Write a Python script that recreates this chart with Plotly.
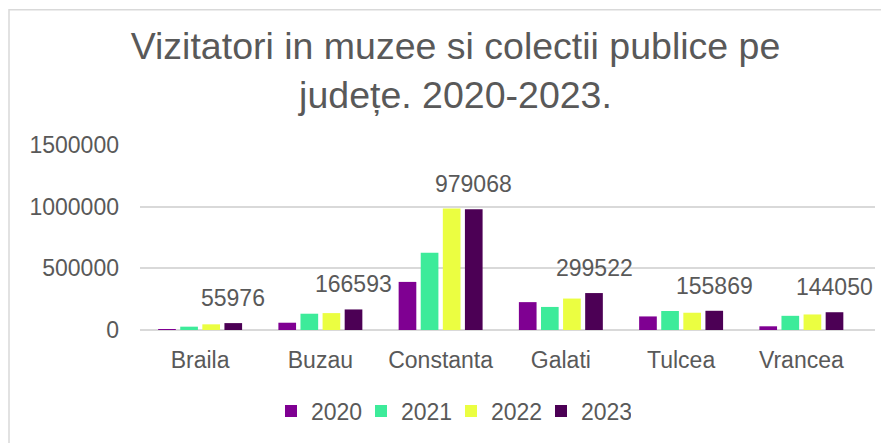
import plotly.graph_objects as go

counties = ["Braila", "Buzau", "Constanta", "Galati", "Tulcea", "Vrancea"]
years = ["2020", "2021", "2022", "2023"]
v2020 = [4000, 59000, 390000, 226000, 110000, 30000]
v2021 = [27000, 132000, 626000, 187000, 154000, 115000]
v2022 = [46000, 137000, 985000, 255000, 140000, 126000]
v2023 = [55976, 166593, 979068, 299522, 155869, 144050]
series = [v2020, v2021, v2022, v2023]
colors = ["#7F0092", "#3DEB9A", "#EBFE41", "#4C0055"]
yticks = [0, 500000, 1000000, 1500000]

TXT = "#595959"
FONT = "Liberation Sans, Arial, sans-serif"
BARGAP = 0.265
# the page body adds an 8px margin, so the figure is 8px smaller than the window
W, H = 881, 435
ML, MR, MT, MB = 132, 14, 137, 112

fig = go.Figure()
for yr, vals, col in zip(years, series, colors):
    fig.add_trace(go.Bar(
        name=yr, x=counties, y=vals, marker=dict(color=col, line=dict(width=0)),
    ))

# data labels for the last series (2023), placed above its bars
slot = (1 - BARGAP) / len(years)
offset = slot * (len(years) - 1 - (len(years) - 1) / 2)
for i, v in enumerate(v2023):
    fig.add_annotation(
        x=i + offset, y=v, xref="x", yref="y", text=str(v), showarrow=False,
        yanchor="middle", yshift=25, font=dict(size=23, color=TXT, family=FONT),
    )

pw = W - ML - MR
ph = H - MT - MB
fig.add_shape(
    type="rect", xref="paper", yref="paper",
    x0=(1 - ML) / pw, x1=(W + 10 - ML) / pw,
    y0=-(H + 10 - MT - ph) / ph, y1=(H - MB - 1) / ph,
    line=dict(color="#d9d9d9", width=1.5), fillcolor="rgba(0,0,0,0)", layer="below",
)

fig.update_layout(
    width=W, height=H,
    margin=dict(l=ML, r=MR, t=MT, b=MB, pad=0),
    paper_bgcolor="white", plot_bgcolor="white",
    font=dict(family=FONT, color=TXT, size=23),
    title=dict(
        text="Vizitatori in muzee si colectii publice pe<br>județe. 2020-2023.",
        x=447.5 / W, xanchor="center", xref="container",
        y=1 - 51 / H, yanchor="middle", yref="container",
        font=dict(size=37.5, color=TXT, family=FONT),
    ),
    barmode="group", bargap=BARGAP, bargroupgap=0.2,
    showlegend=True,
    legend=dict(
        orientation="h", x=(443 - ML) / pw, xanchor="center",
        y=-(403 - (H - MB)) / ph, yanchor="middle",
        font=dict(size=23, color=TXT, family=FONT),
        traceorder="normal", bgcolor="rgba(0,0,0,0)", entrywidth=45,
    ),
    xaxis=dict(
        showgrid=False, showline=False, ticks="", zeroline=False,
        ticklabelstandoff=14, tickfont=dict(size=23, color=TXT),
    ),
    yaxis=dict(
        range=[0, 1500000], tickvals=yticks, ticktext=[str(t) for t in yticks],
        showgrid=True, gridcolor="#d9d9d9", gridwidth=1.5,
        zeroline=True, zerolinecolor="#d9d9d9", zerolinewidth=1.5,
        showline=False, ticks="", ticklabelstandoff=20,
        tickfont=dict(size=23, color=TXT),
    ),
)

fig.write_html("out.html")
